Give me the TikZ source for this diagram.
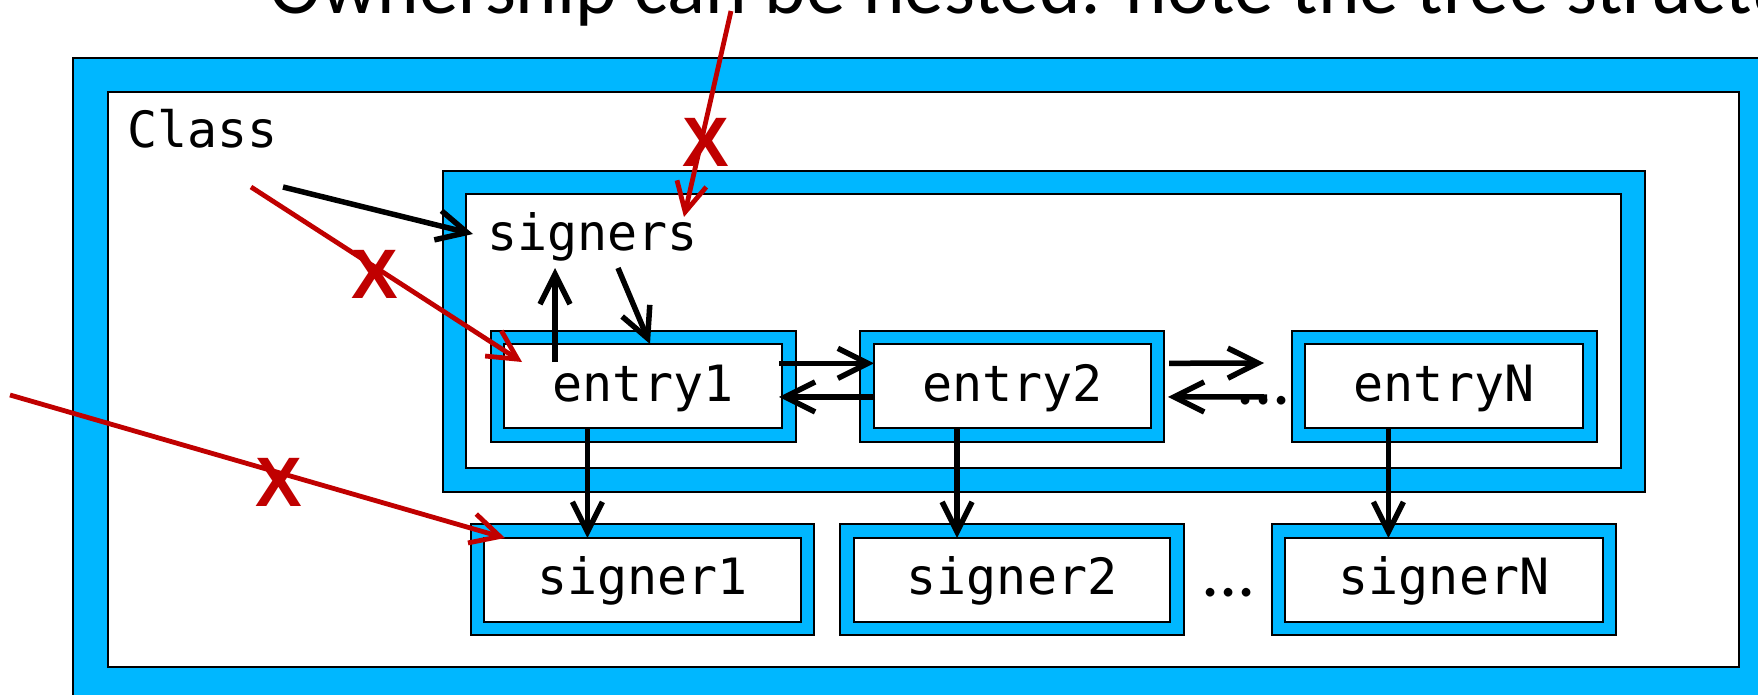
\documentclass[tikz,border=0pt]{standalone}
\usepackage{fontspec}
\usetikzlibrary{arrows.meta,fit,calc}
\newfontfamily\codefont{DejaVu Sans Mono}
\newfontfamily\headfont{Carlito}
\newfontfamily\markfont{Liberation Sans}
\definecolor{skyblue}{HTML}{00B7FF}
\definecolor{markred}{HTML}{C00000}
\tikzset{
  shell/.style={draw=black, line width=2pt, fill=skyblue, inner sep=0pt, outer sep=0pt},
  core/.style={draw=black, line width=2pt, fill=white, inner sep=0pt, outer sep=0pt},
  code/.style={font={\codefont\fontsize{50pt}{60pt}\selectfont}, inner sep=0pt, outer sep=0pt},
  headline/.style={font={\headfont\fontsize{79pt}{95pt}\selectfont}, inner sep=0pt},
  gapdots/.style={font={\headfont\fontsize{72pt}{86pt}\selectfont}, inner sep=0pt, anchor=base west},
  cross/.style={font={\markfont\bfseries\fontsize{70pt}{84pt}\selectfont}, text=markred, inner sep=0pt},
  blk/.style={draw=black, line width=5.5pt, -{Straight Barb[length=30pt,width=30pt]}},
  redarr/.style={draw=markred, line width=4.8pt, -{Straight Barb[length=29pt,width=30pt]}},
}
\begin{document}
\begin{tikzpicture}[x=1pt,y=-1pt]
\useasboundingbox (0,0) rectangle (1758,695);
\clip (0,0) rectangle (1758,695);

% heading (runs off the top and right edge)
\node[headline, anchor=base west] (title) at (269,14) {Ownership can be nested: note the tree structure};

% the class object
\node[shell, fit={(73,58) (1773,701)}] (clso) {};
\node[core, fit={(108,92) (1739,667)}] (cls) {};
\node[code, anchor=base west] (clsT) at (127,148) {Class};

% the signers container
\node[shell, fit={(443,171) (1645,492)}] (sgo) {};
\node[core, fit={(466,194) (1621,468)}] (sg) {};
\node[code, anchor=base west] (sgT) at (487,250) {signers};

% entries
\node[shell, fit={(491,331) (796,442)}] (e1o) {};
\node[core, fit={(504,344) (782,428)}] (e1) {};
\node[shell, fit={(860,331) (1164,442)}] (e2o) {};
\node[core, fit={(874,344) (1151,428)}] (e2) {};
\node[shell, fit={(1292,331) (1597,442)}] (eNo) {};
\node[core, fit={(1305,344) (1583,428)}] (eN) {};
\node[code, anchor=base] (e1T) at ($(e1.south)+(0,-27)$) {entry1};
\node[code, anchor=base] (e2T) at ($(e2.south)+(0,-27)$) {entry2};
\node[code, anchor=base] (eNT) at ($(eN.south)+(0,-27)$) {entryN};
\node[gapdots] (gapE) at (1236,404) {...};

% signers
\node[shell, fit={(471,524) (814,635)}] (s1o) {};
\node[core, fit={(484,538) (801,622)}] (s1) {};
\node[shell, fit={(840,524) (1184,635)}] (s2o) {};
\node[core, fit={(854,538) (1170,622)}] (s2) {};
\node[shell, fit={(1272,524) (1616,635)}] (sNo) {};
\node[core, fit={(1285,538) (1603,622)}] (sN) {};
\node[code, anchor=base] (s1T) at ($(s1.south)+(0,-28)$) {signer1};
\node[code, anchor=base] (s2T) at ($(s2.south)+(0,-28)$) {signer2};
\node[code, anchor=base] (sNT) at ($(sN.south)+(0,-28)$) {signerN};
\node[gapdots] (gapS) at (1201,596) {...};

% field pointer into the container
\coordinate (clsOut) at (283,187);
\draw[blk] (clsOut) -- ($(sgT.base west)+(-14,-16)$);
% container <-> first entry
\draw[blk] ($(e1.north west)+(51,18)$) -- ($(sgT.base west)+(68,18)$);
\draw[blk] ($(sgT.base west)+(131,18)$) -- ($(e1.north west)+(146,0)$);

% links between entries
\coordinate (r1) at ($(e2.north west)!0.23!(e2.south west)$);
\coordinate (l1) at ($(e2.north west)!0.63!(e2.south west)$);
\draw[blk] ($(r1 -| e1.east)+(-3,0)$) -- (r1);
\draw[blk] ($(l1)+(1,0)$) -- ($(l1 -| e1.east)+(-3,0)$);
\coordinate (r2) at ($(e2.north east)!0.23!(e2.south east)$);
\coordinate (l2) at ($(e2.north east)!0.63!(e2.south east)$);
\draw[blk] ($(r2)+(18,0)$) -- ($(gapE.base west)+(28,-41)$);
\draw[blk] ($(gapE.base west)+(31,-7)$) -- ($(l2)+(17,0)$);

% entries own their signers
\coordinate (d1) at ($(e1.south west)!0.3!(e1.south east)$);
\coordinate (d2) at ($(e2.south west)!0.3!(e2.south east)$);
\coordinate (dN) at ($(eN.south west)!0.3!(eN.south east)$);
\draw[blk] (d1) -- (d1 |- s1.north);
\draw[blk] (d2) -- (d2 |- s2.north);
\draw[blk] (dN) -- (dN |- sN.north);

% forbidden outside pointers
\coordinate (fromTop) at (731,11);
\coordinate (fromLeft) at (251,187);
\coordinate (fromFar) at (10,395);
\draw[redarr] (fromTop) -- ($(sgT.base west)+(197,-33)$);
\draw[redarr] (fromLeft) -- ($(e1.north west)+(18,18)$);
\draw[redarr] (fromFar) -- ($(s1.north west)+(21,0)$);
\node[cross] (x1) at (706,142) {X};
\node[cross] (x2) at (375,274) {X};
\node[cross] (x3) at (279,482) {X};
\end{tikzpicture}
\end{document}
